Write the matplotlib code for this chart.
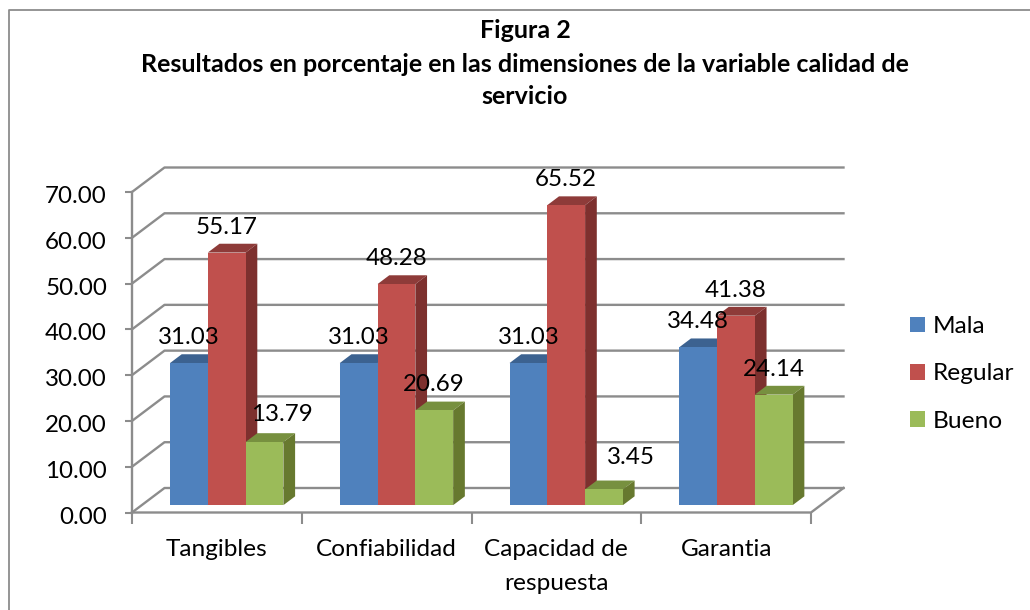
#!/usr/bin/env python3
from matplotlib import pyplot as plt
from matplotlib.patches import Patch
from matplotlib.lines import Line2D
from matplotlib.transforms import ScaledTranslation

categories = ["Tangibles", "Confiabilidad", "Capacidad de\nrespuesta", "Garantia"]
series_names = ["Mala", "Regular", "Bueno"]
mala = [31.03, 31.03, 31.03, 34.48]
regular = [55.17, 48.28, 65.52, 41.38]
bueno = [13.79, 20.69, 3.45, 24.14]
yticks = [0, 10, 20, 30, 40, 50, 60, 70]
title = "Figura 2\nResultados en porcentaje en las dimensiones de la variable calidad de\nservicio"

# front, top, side
colors = [("#4F81BD", "#3C6290", "#3C6290"),
          ("#C0504D", "#8E3B39", "#7D302E"),
          ("#9BBB59", "#77903F", "#67792F")]
grid = "#8C8C8C"

# a few labels were moved by hand in the original, (series, category): pixels
label_moves = {(2, 0): (17, 2), (2, 2): (27, 6)}

W, H = 1030, 610
X0, X1, Y0, Y1 = 132, 811, 512.5, 192

plt.rcParams['font.family'] = ['Lato', 'DejaVu Sans']

fig = plt.figure(figsize=(W / 100, H / 100), dpi=100)
ax = fig.add_axes([X0 / W, 1 - Y0 / H, (X1 - X0) / W, (Y0 - Y1) / H])
ax.set_xlim(0, len(categories))
ax.set_ylim(0, 70)

# oblique depth of the box, in data units
depth_x = 32.5 / ((X1 - X0) / len(categories))
depth_y = 24.5 / ((Y0 - Y1) / 70)
bar_w = 37.8 / ((X1 - X0) / len(categories))
bar_start = 38 / ((X1 - X0) / len(categories))
near = 0.3  # where the bars start inside the box
far = 0.66

for sp in ax.spines.values():
    sp.set_visible(False)
ax.patch.set_alpha(0)

n = len(categories)
for t in yticks:
    ax.plot([0, depth_x, n + depth_x], [t, t + depth_y, t + depth_y], color=grid, lw=1.7, clip_on=False, zorder=1)
ax.plot([0, 0], [0, 70], color=grid, lw=1.7, clip_on=False, zorder=1)
ax.plot([0, n, n + depth_x], [0, 0, depth_y], color=grid, lw=1.7, clip_on=False, zorder=1)

ax.set_yticks(yticks, ["%.2f" % t for t in yticks])
ax.set_xticks(range(n + 1), [""] * (n + 1))
ax.set_xticks([i + 0.5 for i in range(n)], categories, minor=True)
ax.tick_params(axis='y', length=5, width=1.5, color=grid, labelsize=17.4, pad=13)
ax.tick_params(axis='x', which='major', length=8, width=1.5, color=grid)
ax.tick_params(axis='x', which='minor', length=0, labelsize=17.6, pad=19)
for lab in ax.get_xticklabels(minor=True):
    lab.set_linespacing(1.75)
down = ScaledTranslation(0, -2.5 / 100, fig.dpi_scale_trans)
for lab in ax.get_yticklabels():
    lab.set_verticalalignment('center_baseline')
    lab.set_transform(lab.get_transform() + down)

base = near * depth_y
dy1 = (far - near) * depth_y
shift = (far - near) * depth_x
z = 2
for i in range(n):
    for s, vals in enumerate([mala, regular, bueno]):
        v = vals[i]
        front, top, side = colors[s]
        x = i + bar_start + s * bar_w
        t = base + v
        ax.fill([x, x + bar_w, x + bar_w + shift, x + shift], [t, t, t + dy1, t + dy1], color=top, lw=0, zorder=z, clip_on=False)
        ax.fill([x + bar_w, x + bar_w + shift, x + bar_w + shift, x + bar_w], [base, base + dy1, t + dy1, t], color=side, lw=0, zorder=z, clip_on=False)
        ax.bar(x, v, bar_w, bottom=base, align='edge', color=front, lw=0, zorder=z + 0.5, clip_on=False)
        z += 1

for i in range(n):
    for s, vals in enumerate([mala, regular, bueno]):
        mx, my = label_moves.get((s, i), (0, 0))
        ax.annotate("%.2f" % vals[i], (i + bar_start + (s + 0.5) * bar_w, base + vals[i]),
                    xytext=(mx, 25.5 + my), textcoords='offset pixels', ha='center', va='center',
                    fontsize=17.4, color='black', zorder=100, annotation_clip=False)

for line, ypx in zip(title.split("\n"), [31, 64, 96]):
    fig.text(525 / W, 1 - ypx / H, line, ha='center', va='center', fontsize=18, fontweight='bold')

handles = [Patch(color=c[0], lw=0) for c in colors]
fig.legend(handles, series_names, loc='center left', bbox_to_anchor=(910 / W, 1 - 374 / H), frameon=False,
           fontsize=17.6, handlelength=0.62, handleheight=0.62, handletextpad=0.3, labelspacing=1.08,
           borderpad=0, borderaxespad=0)

# chart frame, cut off by the crop on the right and bottom
fig.add_artist(Line2D([8.5 / W, 8.5 / W, 1], [0, 1 - 10 / H, 1 - 10 / H], color="#8C8C8C", lw=1.3))

fig.savefig("out.png", dpi=100)
